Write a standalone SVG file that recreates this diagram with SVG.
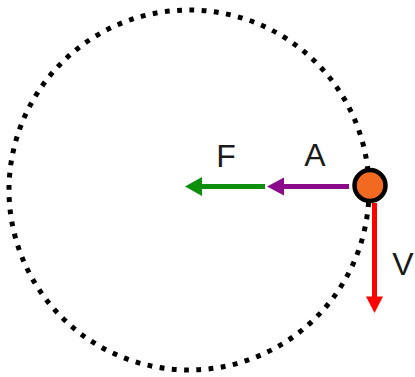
<svg xmlns="http://www.w3.org/2000/svg" width="415" height="377" viewBox="0 0 415 377">
<style>
.orbit{fill:none;stroke:#000;stroke-width:5;stroke-dasharray:4.8 7.494}
.lbl{font-family:"Liberation Sans",Arial,sans-serif;font-size:32px;fill:#1a1a1a;text-anchor:middle}
.shaft{stroke-width:5;fill:none}
</style>
<rect width="415" height="377" fill="#fff"/>
<g id="orbit">
<circle class="orbit" cx="189" cy="190" r="180"/>
</g>
<g id="connectors">
<g id="force-F">
<line class="shaft" x1="265" y1="186.5" x2="200" y2="186.5" stroke="#0d8f0d"/>
<polygon points="185,186.5 202,177 202,196" fill="#0d8f0d"/>
<text class="lbl" x="226" y="167">F</text>
</g>
<g id="accel-A">
<line class="shaft" x1="349" y1="186.5" x2="282" y2="186.5" stroke="#8a0a8a"/>
<polygon points="267,186.5 284,177.5 284,195.5" fill="#8a0a8a"/>
<text class="lbl" x="315" y="166">A</text>
</g>
<g id="velocity-V">
<line class="shaft" x1="374.5" y1="203" x2="374.5" y2="298" stroke="#ff0000"/>
<polygon points="374.5,313 366,296.5 383,296.5" fill="#ff0000"/>
<text class="lbl" x="403" y="275">V</text>
</g>
</g>
<g id="ball">
<circle cx="370" cy="185.5" r="15.5" fill="#f26a22" stroke="#000" stroke-width="4.5"/>
</g>
</svg>
